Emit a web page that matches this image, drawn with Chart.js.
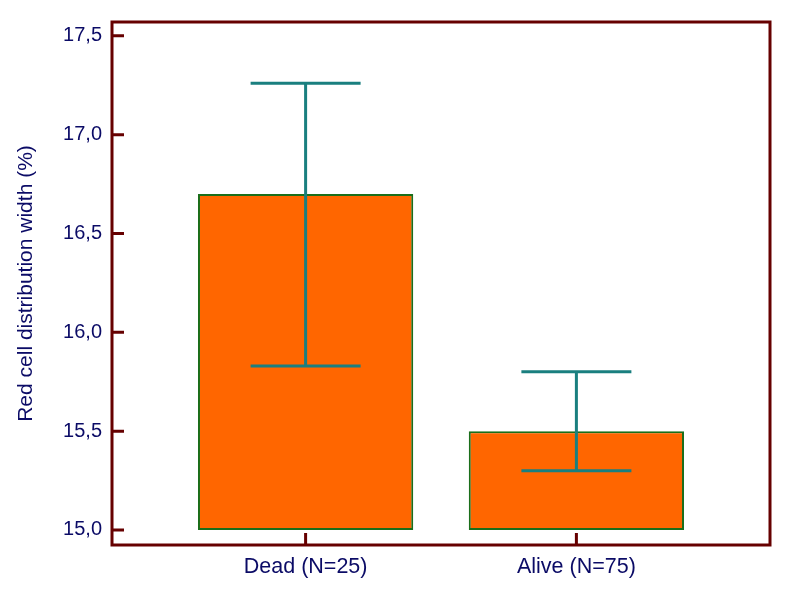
<!DOCTYPE html>
<html>
<head>
<meta charset="utf-8">
<script src="https://cdn.jsdelivr.net/npm/chart.js@4/dist/chart.umd.min.js"></script>
<style>
  html, body { margin: 0; padding: 0; background: #fff; }
  #wrap { width: 800px; height: 600px; }
</style>
</head>
<body>
<div id="wrap"><canvas id="c" width="800" height="600"></canvas></div>
<script>
  var categories = ['Dead (N=25)', 'Alive (N=75)'];
  var means = [16.7, 15.5];
  var errLow = [15.83, 15.3];
  var errHigh = [17.26, 15.8];
  var yTicks = [15.0, 15.5, 16.0, 16.5, 17.0, 17.5];
  var baseValue = 15.0;

  var navy = '#0b0b66';
  var frame = '#660000';
  var family = 'Liberation Sans, Arial, sans-serif';

  // border + inward ticks, like the original plot frame
  var framePlugin = {
    id: 'frame',
    afterDraw: function(chart) {
      var ctx = chart.ctx, a = chart.chartArea;
      var xs = chart.scales.x, ys = chart.scales.y;
      ctx.save();
      ctx.strokeStyle = frame;
      ctx.lineWidth = 3;
      ctx.strokeRect(a.left, a.top, a.right - a.left, a.bottom - a.top);
      ctx.beginPath();
      yTicks.forEach(function(v) {
        var y = ys.getPixelForValue(v);
        ctx.moveTo(a.left, y);
        ctx.lineTo(a.left + 12, y);
      });
      categories.forEach(function(c, i) {
        var x = xs.getPixelForValue(i + 1);
        ctx.moveTo(x, a.bottom);
        ctx.lineTo(x, a.bottom - 12);
      });
      ctx.stroke();
      ctx.restore();
    }
  };

  var errorPlugin = {
    id: 'errbars',
    afterDatasetsDraw: function(chart) {
      var ctx = chart.ctx;
      var xs = chart.scales.x, ys = chart.scales.y;
      ctx.save();
      ctx.strokeStyle = '#1a7f7f';
      ctx.lineWidth = 3;
      categories.forEach(function(c, i) {
        var x = xs.getPixelForValue(i + 1);
        var lo = ys.getPixelForValue(errLow[i]);
        var hi = ys.getPixelForValue(errHigh[i]);
        ctx.beginPath();
        ctx.moveTo(x, lo); ctx.lineTo(x, hi);
        ctx.moveTo(x - 55, lo); ctx.lineTo(x + 55, lo);
        ctx.moveTo(x - 55, hi); ctx.lineTo(x + 55, hi);
        ctx.stroke();
      });
      ctx.restore();
    }
  };

  new Chart(document.getElementById('c'), {
    type: 'bar',
    data: {
      datasets: [{
        data: means.map(function(m, i) { return { x: i + 1, y: [baseValue, m] }; }),
        backgroundColor: '#ff6600',
        borderColor: '#1a6e1a',
        borderWidth: 2,
        borderSkipped: false,
        barPercentage: 0.795,
        categoryPercentage: 1
      }]
    },
    options: {
      responsive: false,
      animation: false,
      layout: { padding: { top: 19, right: 30, left: 0, bottom: 0 } },
      plugins: { legend: { display: false }, tooltip: { enabled: false } },
      scales: {
        x: {
          type: 'linear',
          offset: false,
          bounds: 'ticks',
          min: 0.285,
          max: 2.715,
          grid: { display: false, drawTicks: false, offset: false },
          border: { display: false },
          afterBuildTicks: function(s) { s.ticks = categories.map(function(c, i) { return { value: i + 1 }; }); },
          afterFit: function(s) { s.height = 55; },
          ticks: {
            color: navy, font: { family: family, size: 21.5 }, padding: 9, maxRotation: 0, autoSkip: false,
            callback: function(v) { return categories[v - 1]; }
          }
        },
        y: {
          min: 14.924,
          max: 17.57,
          grid: { display: false, drawTicks: false },
          border: { display: false },
          afterBuildTicks: function(s) { s.ticks = yTicks.map(function(v) { return { value: v }; }); },
          afterFit: function(s) { s.width = 112; },
          ticks: {
            color: navy, font: { family: family, size: 20 }, padding: 10,
            callback: function(v) { return v.toFixed(1).replace('.', ','); }
          },
          title: {
            display: true, text: 'Red cell distribution width (%)',
            color: navy, font: { family: family, size: 21 }, padding: { top: 14, bottom: 0 }
          }
        }
      }
    },
    plugins: [framePlugin, errorPlugin]
  });
</script>
</body>
</html>
